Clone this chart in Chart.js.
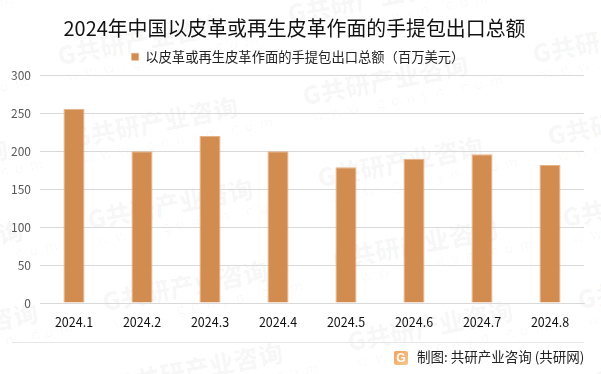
<!DOCTYPE html>
<html lang="zh"><head><meta charset="utf-8">
<style>
html,body{margin:0;padding:0;background:#fff;overflow:hidden}
#wrap{position:relative;width:601px;height:374px;overflow:hidden;font-family:"Noto Sans CJK SC",sans-serif}
#wm{position:absolute;inset:0;z-index:0}
.w{position:absolute;transform:rotate(-11deg);transform-origin:left top;color:rgba(0,0,0,.035);white-space:nowrap;line-height:1}
.w b{display:block;font-size:25px;font-weight:900}
.w i{display:block;font-style:normal;font-size:14px;letter-spacing:7px;margin:2px 0 0 6px}
canvas{position:absolute;left:0;top:0;z-index:1}
#rule{position:absolute;left:12px;right:17px;top:342px;height:1px;background:#e6e6e6;z-index:1}
#foot{position:absolute;left:417px;top:348px;font-size:13.5px;line-height:17px;color:#222;white-space:nowrap;z-index:1}
#logo{position:absolute;left:394px;top:351px;width:14px;height:14px;border-radius:2px;background:linear-gradient(135deg,#f5a05a,#f2c98c);color:#fff;font:bold 12px/14px "Liberation Sans";text-align:center;z-index:1}
</style></head><body>
<div id="wrap">
<div id="wm"></div>
<canvas id="c" width="601" height="374"></canvas>
<div id="rule"></div>
<div id="logo">G</div>
<div id="foot">制图: 共研产业咨询 (共研网)</div>
</div>
<script src="https://cdn.jsdelivr.net/npm/chart.js@4"></script>
<script>
const categories=["2024.1","2024.2","2024.3","2024.4","2024.5","2024.6","2024.7","2024.8"];
const seriesName="以皮革或再生皮革作面的手提包出口总额（百万美元）";
const seriesValues=[256,200,220,200,179,190,196,182];
const titleText="2024年中国以皮革或再生皮革作面的手提包出口总额";
const yTicks=[0,50,100,150,200,250,300];
const font='"Noto Sans CJK SC",sans-serif';

const wm=document.getElementById('wm');
for(let a=-2;a<=3;a++){for(let b=-2;b<=5;b++){
  const x=70+a*230+b*15, y=125+a*-42+b*82;
  if(x<-200||x>610||y<-50||y>380)continue;
  const d=document.createElement('div');d.className='w';d.style.left=x+'px';d.style.top=y+'px';
  d.innerHTML='<b>G共研产业咨询</b><i>www.gonyn.com</i>';wm.appendChild(d);
}}

const nudge={id:'nudge',afterLayout(chart){
  const l=chart.legend,t=chart.titleBlock;
  l.left+=6;l.right+=6;l.top-=2;l.bottom-=2;
  t.left+=2.5;t.right+=2.5;t.top+=1;t.bottom+=1;
}};

new Chart(document.getElementById('c'),{
  type:'bar',
  plugins:[nudge],
  data:{labels:categories,datasets:[{label:seriesName,data:seriesValues,
    backgroundColor:'#D28C4F',borderColor:'#E6B288',borderWidth:{left:1,right:1,top:1,bottom:0},
    barPercentage:1,categoryPercentage:0.31}]},
  options:{
    responsive:false,animation:false,
    layout:{padding:{left:0,right:17,top:0,bottom:41}},
    plugins:{
      title:{display:true,text:titleText,color:'#111',font:{family:font,size:19.9,weight:'normal'},padding:{top:15,bottom:0},align:'center'},
      legend:{display:true,position:'top',labels:{color:'#222',font:{family:font,size:13.3},boxWidth:7,boxHeight:7,padding:13.25}},
      tooltip:{enabled:false}
    },
    scales:{
      x:{grid:{display:false},border:{color:'#D9D9D9'},
        ticks:{color:'#111',font:{family:font,size:12.5},padding:4,maxRotation:0,autoSkip:false},
        afterFit(s){s.height=30}},
      y:{min:0,max:300,afterBuildTicks(s){s.ticks=yTicks.map(v=>({value:v}))},
        grid:{color:'#D9D9D9',drawTicks:false},border:{display:false},
        ticks:{color:'#595959',font:{family:font,size:12},padding:9},
        afterFit(s){s.width=40}}
    }
  }
});
</script>
</body></html>
